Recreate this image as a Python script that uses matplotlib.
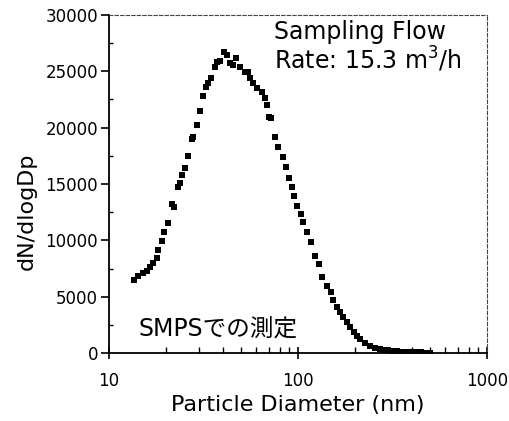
import matplotlib
matplotlib.use("Agg")
import matplotlib.pyplot as plt
from matplotlib.ticker import FixedLocator, NullFormatter, LogLocator

plt.rcParams['font.family'] = ['DejaVu Sans', 'Noto Sans CJK JP']

# Particle diameter (nm) and dN/dlogDp
diameter = [13.56, 14.29, 15.19, 15.83, 16.48, 17.16, 17.89, 18.23, 19.01, 19.62,
            20.45, 21.46, 22.17, 23.1, 23.75, 24.45, 25.24, 26.27, 27.36, 27.9,
            29.07, 30.3, 31.3, 32.6, 33.5, 34.5, 36.3, 37.4, 38.6, 40.6,
            41.9, 43.6, 45.4, 46.9, 49.3, 52.5, 54.7, 55.8, 58.1, 60.5,
            64.3, 67.0, 68.3, 70.4, 71.6, 75.5, 78.0, 82.9, 86.6, 90.0,
            92.5, 95.2, 99.3, 103.4, 106.8, 111.0, 117.4, 123.0, 129.0, 134.6,
            142.8, 149.0, 154.0, 160.0, 167.0, 174.0, 181.0, 189.0, 197.0, 205.0,
            213.0, 226.0, 240.0, 254.0, 270.0, 285.0, 300.0, 316.0, 332.0, 350.0,
            368.0, 387.0, 407.0, 428.0, 450.0, 474.0, 498.0]
dndlogdp = [6500, 6830, 7130, 7300, 7660, 7960, 8400, 9140, 9970, 10770,
            11570, 13230, 12930, 14710, 15060, 15800, 16390, 17490, 18970, 19150,
            20240, 21480, 22810, 23580, 23990, 24380, 25410, 25860, 25950, 26740,
            26450, 25710, 25560, 26160, 25360, 24970, 24970, 24380, 23990, 23490,
            23190, 22600, 22010, 20920, 20830, 19200, 18310, 17420, 16550, 15510,
            14760, 13940, 13050, 12340, 11650, 10770, 9880, 8650, 7900, 6770,
            5950, 5440, 4700, 4110, 3670, 3220, 2780, 2280, 1890, 1510,
            1220, 860, 620, 470, 380, 300, 240, 190, 150, 120,
            100, 80, 70, 60, 50, 40, 30]

x_ticks = [10, 100, 1000]
x_ticklabels = ['10', '100', '1000']
y_ticks = [0, 5000, 10000, 15000, 20000, 25000, 30000]
y_ticklabels = ['0', '5000', '10000', '15000', '20000', '25000', '30000']

fig = plt.figure(figsize=(5.10, 4.21), dpi=100)
ax = fig.add_axes([0.2137, 0.1615, 0.7413, 0.8029])

ax.plot(diameter, dndlogdp, linestyle='none', marker='s', markersize=4.0,
        color='black', markeredgewidth=0)

ax.set_xscale('log')
ax.set_xlim(10, 1000)
ax.set_ylim(0, 30000)

ax.set_xticks(x_ticks)
ax.set_xticklabels(x_ticklabels)
ax.xaxis.set_minor_locator(LogLocator(base=10, subs=range(2, 10)))
ax.xaxis.set_minor_formatter(NullFormatter())
ax.set_yticks(y_ticks)
ax.set_yticklabels(y_ticklabels)
ax.yaxis.set_minor_locator(FixedLocator([2500, 7500, 12500, 17500, 22500, 27500]))

ax.tick_params(axis='x', which='major', direction='inout', length=8, width=1.2,
               labelsize=12, pad=10)
ax.tick_params(axis='x', which='minor', direction='in', length=4, width=1.0)
ax.tick_params(axis='y', which='major', direction='out', length=6, width=1.2,
               labelsize=12, pad=2)
ax.tick_params(axis='y', which='minor', direction='in', length=3, width=1.0)
ax.tick_params(top=False, right=False, which='both')

for s in ['left', 'bottom']:
    ax.spines[s].set_linewidth(1.3)
for s in ['top', 'right']:
    ax.spines[s].set_linewidth(0.8)
    ax.spines[s].set_linestyle((0, (3, 2)))
    ax.spines[s].set_color('#444444')

ax.set_xlabel('Particle Diameter (nm)', fontsize=16, labelpad=3)
ax.set_ylabel('dN/dlogDp', fontsize=16)
ax.yaxis.set_label_coords(-0.19, 0.42)

ax.text(0.437, 0.985, 'Sampling Flow\nRate: 15.3 m$^3$/h', transform=ax.transAxes,
        ha='left', va='top', fontsize=17, linespacing=1.05)
ax.text(0.077, 0.035, 'SMPSでの測定', transform=ax.transAxes,
        ha='left', va='bottom', fontsize=17)

fig.savefig('out.png', dpi=100)
